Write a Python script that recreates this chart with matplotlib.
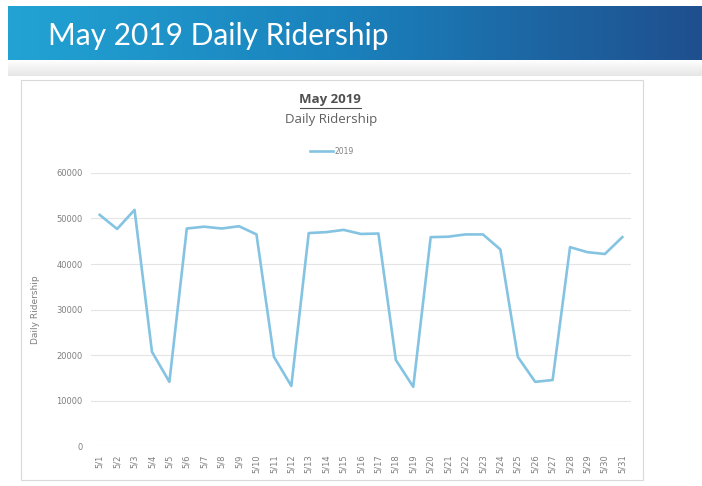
import numpy as np
import matplotlib
matplotlib.use('Agg')
import matplotlib.pyplot as plt
from matplotlib.colors import LinearSegmentedColormap
from matplotlib.patches import Rectangle
from matplotlib.lines import Line2D

# data
days = [f"5/{d}" for d in range(1, 32)]
ridership = [50800, 47700, 51900, 20700, 14100, 47800, 48200, 47800, 48300, 46500,
             19600, 13200, 46800, 47000, 47500, 46600, 46700, 18900, 13000, 45900,
             46000, 46500, 46500, 43200, 19600, 14100, 14500, 43700, 42600, 42200,
             45900]
y_ticks = [0, 10000, 20000, 30000, 40000, 50000, 60000]

W, H = 702, 486
fig = plt.figure(figsize=(W / 100, H / 100), dpi=100)
fig.patch.set_facecolor('white')

def fx(px):
    return px / W

def fy(py):
    return 1 - py / H

# slide banner with blue gradient
banner = fig.add_axes([fx(8), fy(60), fx(694), (60 - 6) / H])
grad = np.linspace(0, 1, 256).reshape(1, -1)
cmap = LinearSegmentedColormap.from_list('banner', ['#22a3d4', '#1a80bb', '#1f4f8e'])
banner.imshow(grad, aspect='auto', cmap=cmap, extent=[0, 1, 0, 1])
banner.set_axis_off()
banner.text(0.057, 0.45, 'May 2019 Daily Ridership', color='white', fontsize=21.5,
            family='Lato', va='center', ha='left', transform=banner.transAxes)

# thin shadow under banner
shadow = fig.add_axes([fx(8), fy(76), fx(694), 16 / H])
sgrad = np.linspace(0, 1, 64).reshape(-1, 1)
shadow.imshow(sgrad, aspect='auto', cmap=LinearSegmentedColormap.from_list('s', ['#ffffff', '#e6e6e6']),
              extent=[0, 1, 0, 1])
shadow.set_axis_off()

# chart frame
fig.add_artist(Rectangle((fx(21), fy(480)), fx(643 - 21), (480 - 80) / H,
                         transform=fig.transFigure, facecolor='white',
                         edgecolor='#d9d9d9', linewidth=0.8, zorder=0))

ax = fig.add_axes([fx(91), fy(446), fx(631 - 91), (446 - 173) / H])
x = np.arange(len(days))
line, = ax.plot(x, ridership, color='#84c4e2', linewidth=1.9, label='2019')

ax.set_xlim(-0.5, len(days) - 0.5)
ax.set_ylim(0, 60000)
ax.set_yticks(y_ticks)
ax.set_yticklabels([str(v) for v in y_ticks], fontsize=6, color='#7f7f7f')
ax.set_xticks(x)
ax.set_xticklabels(days, rotation=90, fontsize=6, color='#7f7f7f')
ax.tick_params(length=0, pad=6)
ax.grid(axis='y', color='#e4e4e4', linewidth=0.8)
ax.set_axisbelow(True)
for s in ax.spines.values():
    s.set_visible(False)
ax.set_ylabel('Daily Ridership', fontsize=6.5, color='#7f7f7f', labelpad=12)

# chart titles
fig.text(fx(330), fy(100), 'May 2019', ha='center', va='center', fontsize=9.5,
         fontweight='bold', color='#505050', family='Open Sans')
fig.add_artist(Line2D([fx(300), fx(361)], [fy(108), fy(108)], color='#505050',
                      linewidth=0.8, transform=fig.transFigure))
fig.text(fx(331), fy(120), 'Daily Ridership', ha='center', va='center', fontsize=9.5,
         color='#606060', family='Open Sans')

ax.legend(handles=[line], loc='center', bbox_to_anchor=(fx(332), fy(151)),
          bbox_transform=fig.transFigure, frameon=False, fontsize=5.5,
          labelcolor='#7f7f7f', handlelength=3, handletextpad=0.3)

fig.savefig('out.png', dpi=100)
